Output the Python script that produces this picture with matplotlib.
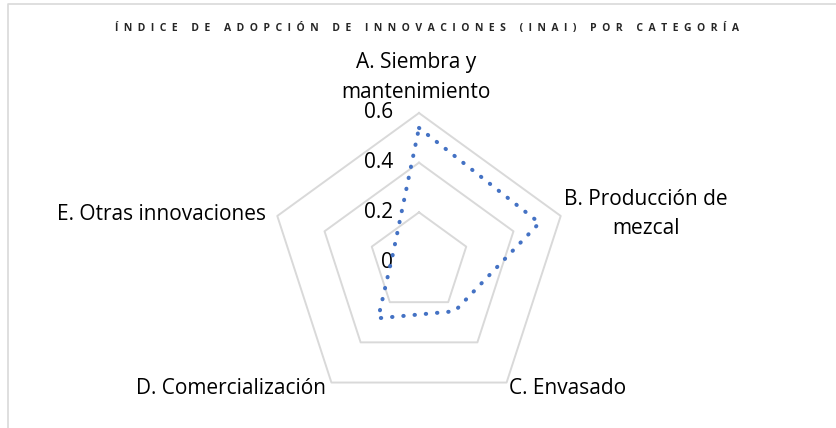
import numpy as np
import matplotlib
matplotlib.use("Agg")
import matplotlib.pyplot as plt
from matplotlib.lines import Line2D

plt.rcParams['font.family'] = ['Open Sans', 'DejaVu Sans']

# datos del gráfico
categorias = ["A. Siembra y\nmantenimiento", "B. Producción de\nmezcal", "C. Envasado",
              "D. Comercialización", "E. Otras innovaciones"]
valores = [0.54, 0.51, 0.245, 0.28, 0.11]
niveles = [0.2, 0.4, 0.6]
etiquetas_eje = ["0", "0.2", "0.4", "0.6"]
titulo = "ÍNDICE DE ADOPCIÓN DE INNOVACIONES (INAI) POR CATEGORÍA"

W, H = 837, 428
fig = plt.figure(figsize=(W / 100, H / 100), dpi=100)
ax = fig.add_axes([0, 0, 1, 1])

# escala: centro en (419, 262) px, 0.6 -> 149 px
cx, cy, esc = 419, 262, 149 / 0.6
ax.set_xlim(-cx / esc, (W - cx) / esc)
ax.set_ylim(-(H - cy) / esc, cy / esc)
ax.axis('off')

n = len(valores)
ang = np.deg2rad(90 - 72 * np.arange(n))
ang_c = np.append(ang, ang[0])

# anillos de la cuadrícula
for r in niveles:
    ax.plot(r * np.cos(ang_c), r * np.sin(ang_c), color='#d9d9d9', lw=1.4, zorder=1)

# etiquetas del eje radial
for i, t in enumerate(etiquetas_eje):
    ax.text(-0.105, i * 0.2, t, ha='right', va='center', fontsize=15, color='#000000')

# serie
v = np.append(valores, valores[0])
ax.plot(v * np.cos(ang_c), v * np.sin(ang_c), color='#4472C4', lw=2.9,
        linestyle=(0, (0.1, 2.7)), dash_capstyle='round', solid_capstyle='round', zorder=3)

# etiquetas de categoría (posiciones en px)
pos_lbl = [(416, 77.5), (646, 214), (568, 389), (231, 389), (162, 215)]
for lbl, (px, py) in zip(categorias, pos_lbl):
    ax.text((px - cx) / esc, (cy - py) / esc, lbl, ha='center', va='center',
            fontsize=15, linespacing=1.55, color='#000000')

# título con espaciado entre letras
espaciado = "     ".join("  ".join(p) for p in titulo.split(" "))
fig.text(427 / W, 1 - 28 / H, espaciado, ha='center', va='center', fontsize=7.5,
         fontweight='bold', color='#262626')

# borde del área del gráfico
fig.add_artist(Line2D([8 / W, 8 / W, 1], [0, 1 - 4 / H, 1 - 4 / H], color='#d9d9d9', lw=1.2))

fig.savefig("out.png", dpi=100)
